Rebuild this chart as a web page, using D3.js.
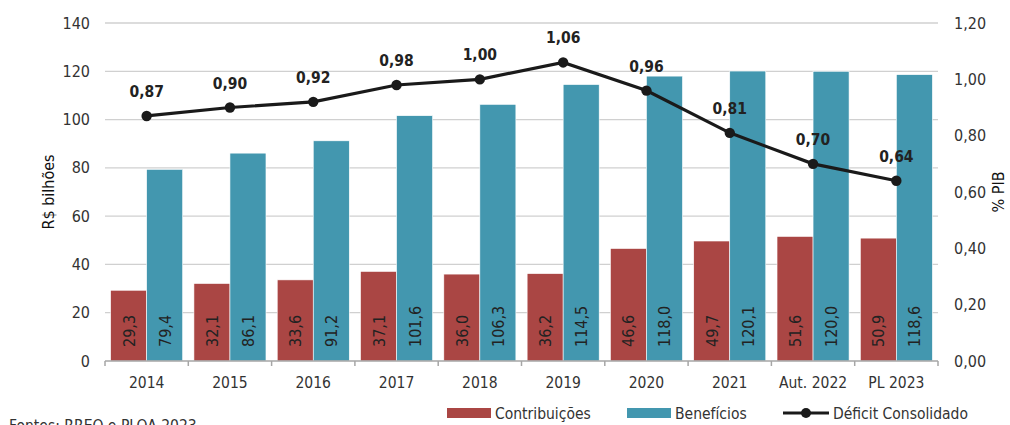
<!DOCTYPE html>
<html>
<head>
<meta charset="utf-8">
<script src="https://cdn.jsdelivr.net/npm/d3@7/dist/d3.min.js"></script>
<style>
  body { margin: 0; background: #fff; }
  svg text { font-family: "Liberation Sans Narrow", "DejaVu Sans Condensed", "Roboto", sans-serif; }
</style>
</head>
<body>
<svg id="chart" width="1010" height="425"></svg>
<script>
// data
const categories = ["2014", "2015", "2016", "2017", "2018", "2019", "2020", "2021", "Aut. 2022", "PL 2023"]
const contribuicoes = [29.3, 32.1, 33.6, 37.1, 36.0, 36.2, 46.6, 49.7, 51.6, 50.9]
const beneficios = [79.4, 86.1, 91.2, 101.6, 106.3, 114.5, 118.0, 120.1, 120.0, 118.6]
const deficit = [0.87, 0.90, 0.92, 0.98, 1.00, 1.06, 0.96, 0.81, 0.70, 0.64]
const leftTicks = [0, 20, 40, 60, 80, 100, 120, 140]
const rightTicks = [0, 0.2, 0.4, 0.6, 0.8, 1.0, 1.2]

const red = "#AA4644"
const blue = "#4397AF"
const ink = "#222"
const fs = 15.5
const fmt = v => v.toFixed(1).replace(".", ",")
const fmt2 = v => v.toFixed(2).replace(".", ",")

const margin = {top: 23, right: 72, bottom: 64, left: 105}
const W = 1010, H = 425
const width = W - margin.left - margin.right
const height = H - margin.top - margin.bottom

const svg = d3.select("#chart")
const g = svg.append("g").attr("transform", `translate(${margin.left},${margin.top})`)

const x0 = d3.scaleBand().domain(categories).range([0, width]).paddingInner(0.135).paddingOuter(0.0675)
const xg = d3.scaleBand().domain(categories).range([0, width])
const x1 = d3.scaleBand().domain(["c", "b"]).range([0, x0.bandwidth()])
const y = d3.scaleLinear().domain([0, 140]).range([height, 0])
const y2 = d3.scaleLinear().domain([0, 1.2]).range([height, 0])

// gridlines
g.append("g").selectAll("line").data(leftTicks.slice(1)).join("line")
  .attr("x1", 0).attr("x2", width)
  .attr("y1", d => y(d)).attr("y2", d => y(d))
  .attr("stroke", "#d0d0d0").attr("stroke-width", 1.3)

// left axis labels
g.append("g").call(d3.axisLeft(y).tickValues(leftTicks).tickSize(0).tickPadding(15))
  .call(a => a.select(".domain").remove())
  .selectAll("text").attr("font-size", fs + 0.5).attr("fill", "#333")
  .style("font-family", '"Liberation Sans Narrow", "DejaVu Sans Condensed", sans-serif')

// right axis labels
g.append("g").attr("transform", `translate(${width},0)`)
  .call(d3.axisRight(y2).tickValues(rightTicks).tickSize(0).tickPadding(16).tickFormat(fmt2))
  .call(a => a.select(".domain").remove())
  .selectAll("text").attr("font-size", fs + 0.5).attr("fill", "#333")
  .style("font-family", '"Liberation Sans Narrow", "DejaVu Sans Condensed", sans-serif')

// bars
const groups = g.append("g").selectAll("g").data(categories).join("g")
  .attr("transform", d => `translate(${x0(d)},0)`)

groups.append("rect")
  .attr("x", x1("c")).attr("width", x1.bandwidth())
  .attr("y", (d, i) => y(contribuicoes[i]))
  .attr("height", (d, i) => height - y(contribuicoes[i]))
  .attr("fill", red).attr("stroke", "#fff").attr("stroke-width", 0.6)

groups.append("rect")
  .attr("x", x1("b")).attr("width", x1.bandwidth())
  .attr("y", (d, i) => y(beneficios[i]))
  .attr("height", (d, i) => height - y(beneficios[i]))
  .attr("fill", blue).attr("stroke", "#fff").attr("stroke-width", 0.6)

// vertical value labels
const vlab = (key, arr) => groups.append("text")
  .attr("transform", (d, i) => `translate(${x1(key) + x1.bandwidth() / 2 + 6},${height - 14}) rotate(-90)`)
  .attr("font-size", fs + 0.5).attr("fill", ink)
  .text((d, i) => fmt(arr[i]))
vlab("c", contribuicoes)
vlab("b", beneficios)

// bottom axis
const xa = g.append("g").attr("transform", `translate(0,${height})`)
xa.append("line").attr("x1", 0).attr("x2", width).attr("stroke", "#a6a6a6").attr("stroke-width", 1.5)
xa.selectAll(".tk").data(categories.concat(["end"])).join("line")
  .attr("x1", (d, i) => i * xg.step()).attr("x2", (d, i) => i * xg.step())
  .attr("y1", 0).attr("y2", 5).attr("stroke", "#a6a6a6").attr("stroke-width", 1.5)
xa.selectAll("text").data(categories).join("text")
  .attr("x", d => xg(d) + xg.bandwidth() / 2).attr("y", 27)
  .attr("text-anchor", "middle").attr("font-size", fs).attr("fill", "#333")
  .text(d => d)

// line
const cx = d => xg(d) + xg.bandwidth() / 2
g.append("path").datum(categories)
  .attr("fill", "none").attr("stroke", "#1a1a1a").attr("stroke-width", 3.2)
  .attr("d", d3.line().x(d => cx(d)).y((d, i) => y2(deficit[i])))
g.append("g").selectAll("circle").data(categories).join("circle")
  .attr("cx", cx).attr("cy", (d, i) => y2(deficit[i])).attr("r", 5.2).attr("fill", "#1a1a1a")
g.append("g").selectAll("text").data(categories).join("text")
  .attr("x", cx).attr("y", (d, i) => y2(deficit[i]) - 19)
  .attr("text-anchor", "middle").attr("font-size", fs).attr("font-weight", "bold").attr("fill", ink)
  .text((d, i) => fmt2(deficit[i]))

// axis titles
svg.append("text").attr("transform", "translate(54,192) rotate(-90)")
  .attr("text-anchor", "middle").attr("font-size", fs + 0.5).attr("fill", "#111").text("R$ bilhões")
svg.append("text").attr("transform", "translate(1004,192) rotate(-90)")
  .attr("text-anchor", "middle").attr("font-size", fs + 0.5).attr("fill", "#111").text("% PIB")

// legend
const lg = svg.append("g").attr("transform", "translate(0,413)")
lg.append("rect").attr("x", 447).attr("y", -5).attr("width", 44).attr("height", 10).attr("fill", red)
lg.append("text").attr("x", 495).attr("y", 6).attr("font-size", fs).attr("fill", "#333").text("Contribuições")
lg.append("rect").attr("x", 627).attr("y", -5).attr("width", 44).attr("height", 10).attr("fill", blue)
lg.append("text").attr("x", 675).attr("y", 6).attr("font-size", fs).attr("fill", "#333").text("Benefícios")
lg.append("line").attr("x1", 783).attr("x2", 829).attr("y1", 0).attr("y2", 0).attr("stroke", "#1a1a1a").attr("stroke-width", 3.2)
lg.append("circle").attr("cx", 806).attr("cy", 0).attr("r", 5).attr("fill", "#1a1a1a")
lg.append("text").attr("x", 833).attr("y", 6).attr("font-size", fs).attr("fill", "#333").text("Déficit Consolidado")

// source note, cut off at the bottom edge as in the reference
svg.append("text").attr("x", 9).attr("y", 431).attr("font-size", fs).attr("fill", "#333").text("Fontes: RREO e PLOA 2023")
</script>
</body>
</html>
